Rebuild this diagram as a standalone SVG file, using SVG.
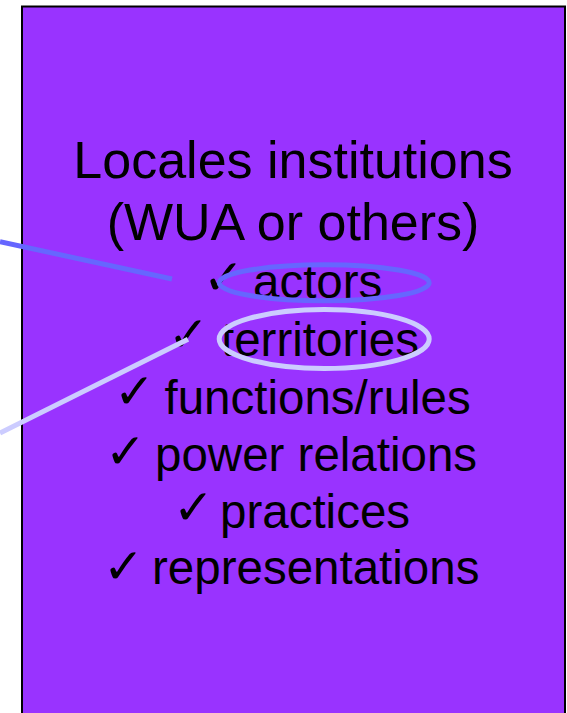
<svg xmlns="http://www.w3.org/2000/svg" width="567" height="713" viewBox="0 0 567 713">
<style>
.t{font-family:"Liberation Sans",Arial,sans-serif;fill:#000}
.h{font-size:52px;text-anchor:middle}
.i{font-size:47.5px}
.c{font-family:"DejaVu Sans",sans-serif;font-size:49px;font-weight:bold;fill:#000}
.ln{fill:none;stroke-width:5}
</style>
<rect width="567" height="713" fill="#fff"/>
<g id="box">
<rect x="22" y="6.5" width="543" height="720" fill="#9933FF" stroke="#000" stroke-width="2"/>
<text class="t h" x="293" y="178">Locales institutions</text>
<text class="t h" x="293" y="240">(WUA or others)</text>
<text class="c" x="203" y="294">✓</text>
<text class="t i" x="253" y="298">actors</text>
<text class="c" x="168" y="351">✓</text>
<text class="t i" x="221" y="356">territories</text>
<text class="c" x="114" y="408">✓</text>
<text class="t i" x="164.5" y="414">functions/rules</text>
<text class="c" x="105" y="468">✓</text>
<text class="t i" x="155" y="471">power relations</text>
<text class="c" x="173" y="524">✓</text>
<text class="t i" x="220" y="528">practices</text>
<text class="c" x="103" y="583">✓</text>
<text class="t i" x="152" y="584">representations</text>
</g>
<g id="connectors">
<ellipse class="ln" cx="324.2" cy="282.8" rx="105" ry="18" stroke="#6666FF"/>
<ellipse class="ln" cx="324.2" cy="339" rx="105" ry="29.5" stroke="#CCCCFF"/>
<line class="ln" x1="0" y1="241.7" x2="172" y2="279" stroke="#6666FF"/>
<line class="ln" x1="0" y1="433" x2="188" y2="339.3" stroke="#CCCCFF"/>
</g>
</svg>
